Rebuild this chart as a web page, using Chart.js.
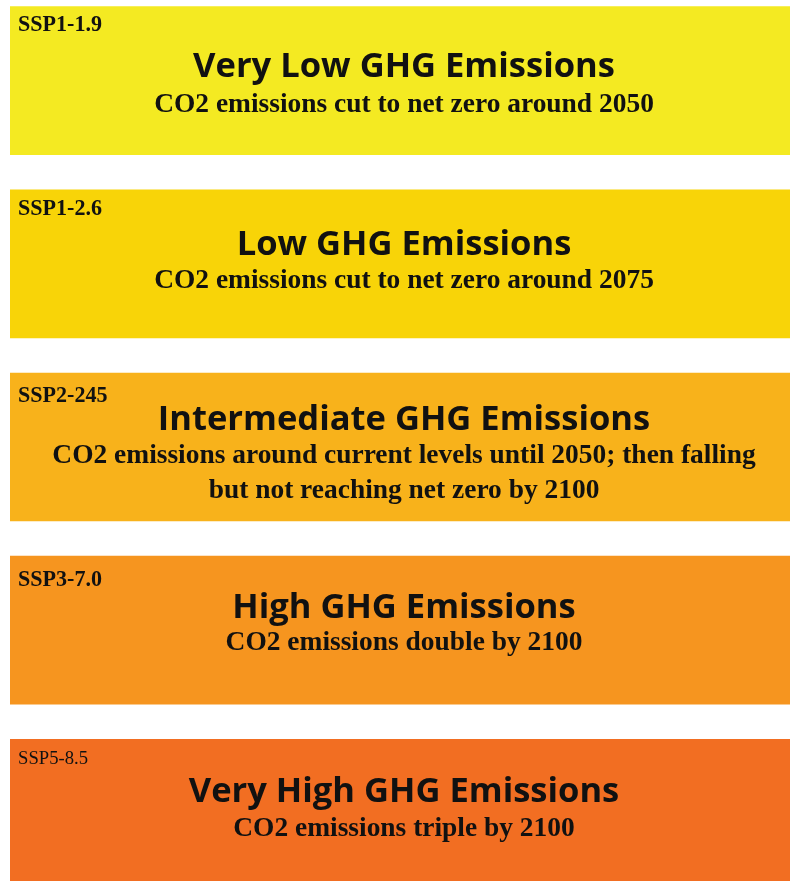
<!DOCTYPE html>
<html><head><meta charset="utf-8">
<script src="https://cdn.jsdelivr.net/npm/chart.js@4.4.1/dist/chart.umd.min.js"></script>
<style>
html,body{margin:0;padding:0;background:#fff;overflow:hidden;width:790px;height:881px;}
#wrap{position:absolute;left:0;top:-11px;width:790px;height:916px;}
</style></head><body>
<div id="wrap"><canvas id="c" width="790" height="916"></canvas></div>
<script>
// ---- data ----
const scenarios = ['SSP1-1.9', 'SSP1-2.6', 'SSP2-245', 'SSP3-7.0', 'SSP5-8.5'];
const titles = ['Very Low GHG Emissions', 'Low GHG Emissions', 'Intermediate GHG Emissions', 'High GHG Emissions', 'Very High GHG Emissions'];
const subtitles = [
  ['CO2 emissions cut to net zero around 2050'],
  ['CO2 emissions cut to net zero around 2075'],
  ['CO2 emissions around current levels until 2050; then falling', 'but not reaching net zero by 2100'],
  ['CO2 emissions double by 2100'],
  ['CO2 emissions triple by 2100']
];
const barValues = [1, 1, 1, 1, 1];
const barColors = ['#F4EA22', '#F8D408', '#F8B21B', '#F6951F', '#F26E22'];

// ---- layout / style (px relative to each box top) ----
const labelBaseline = [24, 25, 29, 30, 25];
const titleBaseline = [70, 65, 57, 62, 63];
const subBaseline = [105, 98, 90, 94, 97];
const subLineGap = 35;
const labelBold = [true, true, true, true, false];

const TITLE_FAMILY = '"Open Sans", "Noto Sans", sans-serif';
const SERIF_FAMILY = '"Liberation Serif", "DejaVu Serif", serif';

// fit font sizes to widths measured on the reference
const mctx = document.createElement('canvas').getContext('2d');
function fitSize(weight, family, text, target) {
  mctx.font = weight + ' 100px ' + family;
  return 100 * target / mctx.measureText(text).width;
}
const titleSize = fitSize('bold', TITLE_FAMILY, 'Very Low GHG Emissions', 422);
const subSize = fitSize('bold', SERIF_FAMILY, 'CO2 emissions cut to net zero around 2050', 500);
const labelSize = fitSize('bold', SERIF_FAMILY, 'SSP1-1.9', 84);
const label5Size = fitSize('normal', SERIF_FAMILY, 'SSP5-8.5', 70);

const textPlugin = {
  id: 'boxText',
  afterDatasetsDraw(chart) {
    const ctx = chart.ctx;
    const meta = chart.getDatasetMeta(0);
    meta.data.forEach((el, i) => {
      const p = el.getProps(['x', 'y', 'base', 'height'], true);
      const left = Math.min(p.x, p.base);
      const right = Math.max(p.x, p.base);
      const top = p.y - p.height / 2;
      const cx = (left + right) / 2 + 4;
      ctx.save();
      ctx.fillStyle = '#111';
      ctx.textBaseline = 'alphabetic';
      // label
      ctx.textAlign = 'left';
      ctx.font = (labelBold[i] ? 'bold ' : 'normal ') + (labelBold[i] ? labelSize : label5Size).toFixed(2) + 'px ' + SERIF_FAMILY;
      ctx.fillText(scenarios[i], left + 8, top + labelBaseline[i]);
      // title
      ctx.textAlign = 'center';
      ctx.font = 'bold ' + titleSize.toFixed(2) + 'px ' + TITLE_FAMILY;
      ctx.fillText(titles[i], cx, top + titleBaseline[i]);
      // subtitle
      ctx.font = 'bold ' + subSize.toFixed(2) + 'px ' + SERIF_FAMILY;
      subtitles[i].forEach((line, j) => {
        ctx.fillText(line, cx, top + subBaseline[i] + j * subLineGap);
      });
      ctx.restore();
    });
  }
};

new Chart(document.getElementById('c'), {
  type: 'bar',
  data: {
    labels: scenarios,
    datasets: [{
      data: barValues,
      backgroundColor: barColors,
      borderWidth: 0,
      barThickness: 148
    }]
  },
  options: {
    indexAxis: 'y',
    responsive: false,
    animation: false,
    devicePixelRatio: 1,
    layout: { padding: { left: 10, right: 0, top: 0, bottom: 0 } },
    scales: {
      x: { display: false, min: 0, max: 1 },
      y: { display: false, offset: true, grid: { display: false } }
    },
    plugins: { legend: { display: false }, tooltip: { enabled: false } },
    events: []
  },
  plugins: [textPlugin]
});
</script>
</body></html>
